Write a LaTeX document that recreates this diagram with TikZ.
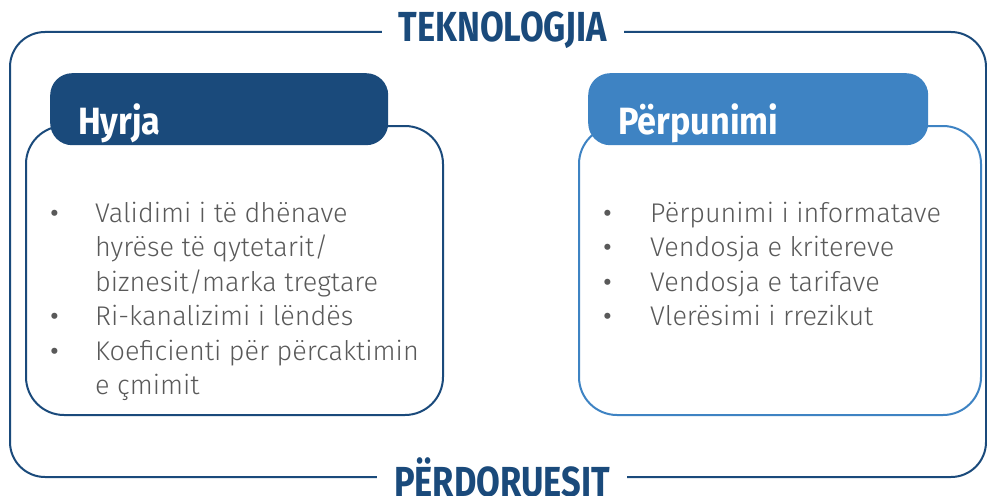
\documentclass[tikz,border=0pt]{standalone}
\usepackage{fontspec}
\usepackage{array}
\setmainfont{Fira Sans}
\newfontfamily\bodyfont{Fira Sans Light}
\newfontfamily\titlefont[FakeStretch=0.82]{Fira Sans}
\newfontfamily\headfont[FakeStretch=0.9]{Fira Sans}
\definecolor{darkblue}{HTML}{1A4A7B}
\definecolor{lightblue}{HTML}{3E83C3}
\definecolor{textgray}{HTML}{595959}
\newcommand{\bul}{{\normalfont\textbullet}}
\tikzset{
  frame/.style={draw=darkblue, line width=2pt},
  contentbox/.style={line width=2pt, rounded corners=38pt, minimum width=#1, minimum height=289pt, inner sep=0pt},
  headbox/.style={rounded corners=22pt, minimum height=72pt, inner sep=0pt, anchor=north west},
  headtext/.style={text=white, font=\headfont\bfseries\fontsize{38}{38}\selectfont, anchor=base west, inner sep=0pt},
  bigtitle/.style={fill=white, text=darkblue, font=\titlefont\bfseries\fontsize{42}{42}\selectfont, inner xsep=17pt, inner ysep=2pt},
  bodytext/.style={text=textgray, font=\bodyfont\fontsize{27}{34.5}\selectfont, anchor=base west, inner sep=0pt}
}
\begin{document}
\begin{tikzpicture}[x=1pt,y=-1pt]
\useasboundingbox (0,0) rectangle (987,495);
\draw[frame, rounded corners=35pt] (10,32) rectangle (986,477);
\node[bigtitle] (tek) at (503,30) {TEKNOLOGJIA};
\node[bigtitle] (per) at (502,477) {PËRDORUESIT};
% left
\node[contentbox=417pt, draw=darkblue, anchor=north west] (lbox) at (25,125) {};
\node[headbox, fill=darkblue, minimum width=338pt] (lhead) at (50,73) {};
\node[headtext] (lht) at (78,134) {Hyrja};
\node[bodytext] (ltext) at (50,222) {\begin{tabular}[t]{@{}>{\raggedright}p{45pt}@{}>{\raggedright\arraybackslash}p{350pt}@{}}
\bul& Validimi i të dhënave\newline hyrëse të qytetarit/\newline biznesit/marka tregtare\\
\bul& Ri-kanalizimi i lëndës\\
\bul& Koeficienti për përcaktimin\newline e çmimit
\end{tabular}};
% right
\node[contentbox=402pt, draw=lightblue, anchor=north west] (rbox) at (578,125) {};
\node[headbox, fill=lightblue, minimum width=340pt] (rhead) at (588,73) {};
\node[headtext] (rht) at (618,134) {Përpunimi};
\node[bodytext] (rtext) at (603,222) {\begin{tabular}[t]{@{}>{\raggedright}p{47pt}@{}>{\raggedright\arraybackslash}p{320pt}@{}}
\bul& Përpunimi i informatave\\
\bul& Vendosja e kritereve\\
\bul& Vendosja e tarifave\\
\bul& Vlerësimi i rrezikut
\end{tabular}};
\end{tikzpicture}
\end{document}
